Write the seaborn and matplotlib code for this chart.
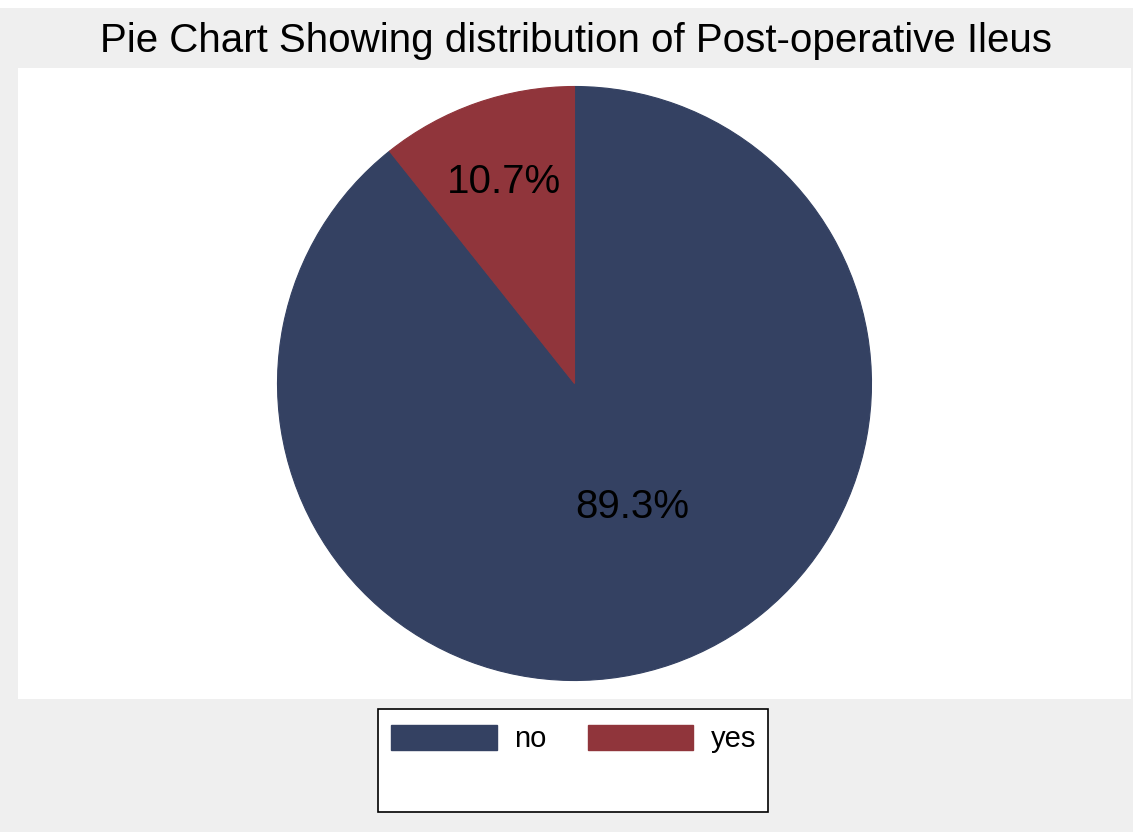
import matplotlib
matplotlib.use("Agg")
import matplotlib.pyplot as plt
from matplotlib.patches import Rectangle, Patch
import seaborn as sns

# Data
categories = ["no", "yes"]
shares = [89.3, 10.7]
title_text = "Pie Chart Showing distribution of Post-operative Ileus"

sns.set_theme(style="white")
plt.rcParams["font.family"] = ["Liberation Sans", "DejaVu Sans"]
plt.rcParams["text.color"] = "black"

colors = sns.color_palette(["#344162", "#90353b"])

W, H = 1133, 832
fig = plt.figure(figsize=(W / 100, H / 100), dpi=100, facecolor="#efefef")

# thin white strip along the top edge
fig.patches.append(Rectangle((0, 1 - 8 / H), 1, 8 / H, transform=fig.transFigure,
                             facecolor="white", edgecolor="none", zorder=0))

# plot region (white)
left, right, top, bottom = 18, 1131, 68, 699
ax = fig.add_axes([left / W, 1 - bottom / H, (right - left) / W, (bottom - top) / H])

radius_px = 297
wedges, _ = ax.pie(shares, colors=colors, startangle=90, counterclock=False,
                   radius=1.0, center=(0, 0), frame=True,
                   wedgeprops=dict(linewidth=0.8))
for w, c in zip(wedges, colors):
    w.set_edgecolor(c)

ax.set_facecolor("white")
for s in ax.spines.values():
    s.set_visible(False)

half_w = (right - left) / 2 / radius_px
half_h = (bottom - top) / 2 / radius_px
ax.set_xlim(-half_w, half_w)
ax.set_ylim(-half_h, half_h)
ax.set_aspect("auto")
ax.set_xticks([])
ax.set_yticks([])

# percentage labels inside the slices
label_pos = {"no": (0.195, -0.417), "yes": (-0.236, 0.677)}
for cat, val in zip(categories, shares):
    x, y = label_pos[cat]
    ax.text(x, y, f"{val:.1f}%", ha="center", va="center", fontsize=29, color="black")

# title
fig.text(576 / W, 1 - 41 / H, title_text, ha="center", va="center", fontsize=29, color="black")

# legend box
bx0, bx1, by0, by1 = 378, 768, 709, 812
fig.patches.append(Rectangle((bx0 / W, 1 - by1 / H), (bx1 - bx0) / W, (by1 - by0) / H,
                             transform=fig.transFigure, facecolor="white",
                             edgecolor="black", linewidth=1.2, zorder=1))
handles = [Patch(facecolor=c, edgecolor=c) for c in colors]
leg = fig.legend(handles, categories, loc="center left",
                 bbox_to_anchor=(391 / W, 1 - 739 / H), ncol=2, frameon=False,
                 fontsize=21, handlelength=3.63, handleheight=0.95, handletextpad=0.6,
                 columnspacing=1.4, borderpad=0.0, borderaxespad=0.0,
                 labelcolor="black")
leg.set_zorder(2)

fig.savefig("out.png", dpi=100, facecolor=fig.get_facecolor())
